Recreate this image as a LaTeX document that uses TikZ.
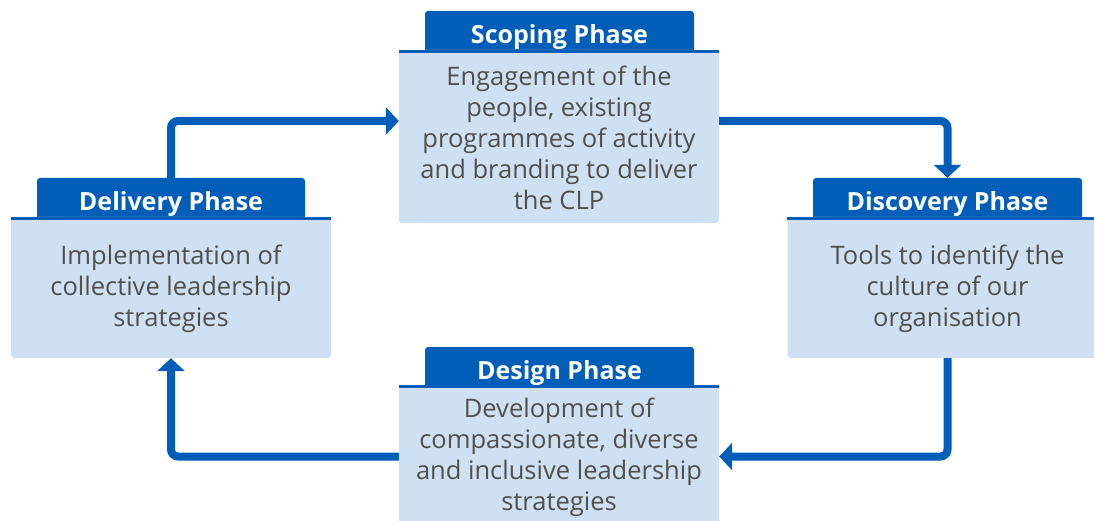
\documentclass[tikz,border=0pt]{standalone}
\usepackage{fontspec}
\setmainfont{Open Sans}
\usetikzlibrary{arrows.meta}
\definecolor{nhsblue}{HTML}{005EB8}
\definecolor{panel}{HTML}{CEE0F1}
\definecolor{bodytext}{HTML}{505050}

\tikzset{
  tabbox/.style={fill=nhsblue, rounded corners=3pt, inner sep=0pt, draw=none},
  panelbox/.style={fill=panel, rounded corners=3pt, inner sep=0pt, draw=none},
  tabtitle/.style={text=white, inner sep=0pt, anchor=base,
    font=\fontsize{25}{30}\selectfont\bfseries},
  bodytxt/.style={text=bodytext, align=center, inner sep=0pt,
    font=\fontsize{25.5}{31}\selectfont},
  flow/.style={draw=nhsblue, line width=8pt, rounded corners=7pt,
    -{Triangle[width=27pt,length=13pt]}},
}

\begin{document}
\begin{tikzpicture}[x=1pt,y=-1pt]
\useasboundingbox (0,0) rectangle (1094,521);

% header tabs
\node[tabbox, minimum width=269pt, minimum height=42pt] (scopetab) at (559.5,32) {};
\node[tabbox, minimum width=268pt, minimum height=42pt] (deltab)   at (171,199) {};
\node[tabbox, minimum width=269pt, minimum height=42pt] (disctab)  at (947.5,199) {};
\node[tabbox, minimum width=269pt, minimum height=41pt] (destab)   at (559.5,367.5) {};

% light panels
\node[panelbox, minimum width=320pt, minimum height=173pt] (scopebox) at (559,136.5) {};
\node[panelbox, minimum width=320pt, minimum height=141pt] (delbox)   at (171,287.5) {};
\node[panelbox, minimum width=320pt, minimum height=141pt] (discbox)  at (947.5,287.5) {};
\node[panelbox, minimum width=320pt, minimum height=145pt] (desbox)   at (559,457.5) {};

% blue rule along the top of each panel
\foreach \p in {scopebox,delbox,discbox,desbox}
  \fill[nhsblue] (\p.north west) rectangle ++(320,3);

% titles
\node[tabtitle] (scopetitle) at (559.5,43.5)  {Scoping Phase};
\node[tabtitle] (deltitle)   at (171,210.5)   {Delivery Phase};
\node[tabtitle] (disctitle)  at (947.5,210.5) {Discovery Phase};
\node[tabtitle] (destitle)   at (559.5,379.5) {Design Phase};

% panel texts
\node[bodytxt] (scopetext) at (559,138)
  {Engagement of the\\people, existing\\programmes of activity\\and branding to deliver\\the CLP};
\node[bodytxt] (deltext) at (171,289)
  {Implementation of\\collective leadership\\strategies};
\node[bodytxt] (disctext) at (947.5,289)
  {Tools to identify the\\culture of our\\organisation};
\node[bodytxt] (destext) at (559,457.5)
  {Development of\\compassionate, diverse\\and inclusive leadership\\strategies};

% routing rows for the cycle arrows
\coordinate (toprow) at (0,121);
\coordinate (botrow) at (0,456.5);

% the cycle
\draw[flow] (deltab.north) |- (scopebox.west |- toprow);
\draw[flow] (scopebox.east |- toprow) -| (disctab.north);
\draw[flow] (discbox.south) |- (desbox.east |- botrow);
\draw[flow] (desbox.west |- botrow) -| (delbox.south);
\end{tikzpicture}
\end{document}
